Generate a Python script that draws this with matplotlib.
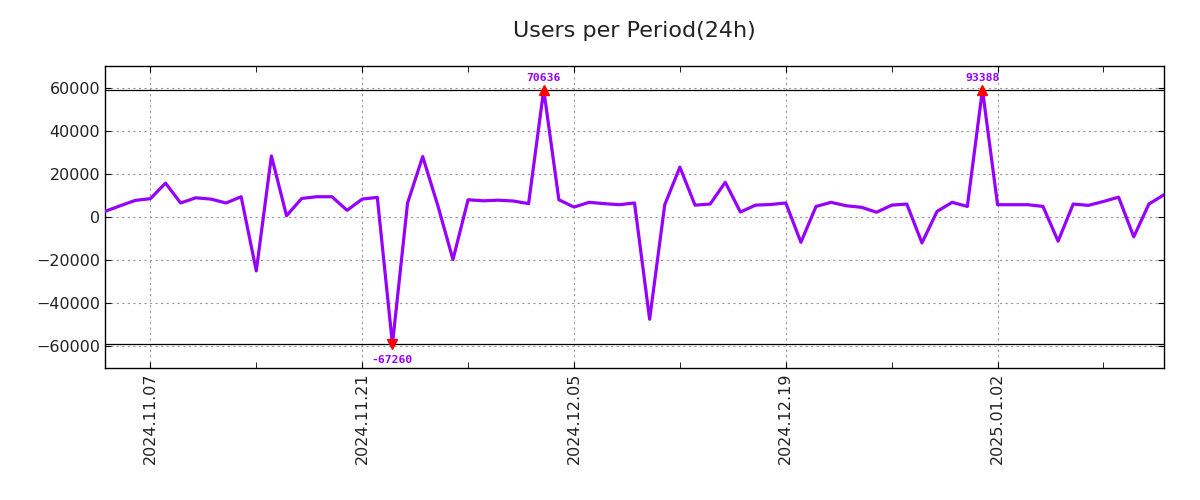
import numpy as np
import matplotlib
matplotlib.use("Agg")
import matplotlib.pyplot as plt
import matplotlib.dates as mdates

LINE_COLOR = "#9500ff"
CLIP = 59000

start_date = np.datetime64("2024-11-04")
users = [
    2600, 5200, 7700, 8500, 15700, 6500, 8900, 8300, 6500, 9400,
    -25000, 28300, 600, 8600, 9400, 9400, 3100, 8300, 9100, -67260,
    6500, 28000, 5300, -19700, 8000, 7500, 7800, 7400, 6200, 70636,
    8000, 4600, 6800, 6200, 5700, 6500, -47400, 5700, 23100, 5500,
    6000, 16100, 2300, 5500, 5800, 6500, -11700, 4900, 6800, 5200,
    4500, 2200, 5500, 6000, -12000, 2600, 6800, 4900, 93388, 5700,
    5700, 5700, 4900, -11200, 6000, 5400, 7200, 9200, -9200, 6000,
    10300,
]
dates = start_date + np.arange(len(users))
users = np.array(users)
shown = np.clip(users, -CLIP, CLIP)

fig = plt.figure(figsize=(12, 5), dpi=100)
ax = fig.add_axes([0.0875, 0.264, 0.8825, 0.604])

ax.plot(dates, shown, color=LINE_COLOR, linewidth=2.3, zorder=3)
ax.axhline(CLIP, color="black", linewidth=0.9, zorder=2)
ax.axhline(-CLIP, color="black", linewidth=0.9, zorder=2)

# mark and label values that went past the clip lines
for d, v, s in zip(dates, users, shown):
    if v > CLIP:
        ax.plot(d, s, marker="^", color="red", markersize=7, zorder=4)
        ax.annotate(str(v), (d, s), xytext=(0, 5), textcoords="offset points",
                    ha="center", va="bottom", color=LINE_COLOR, fontsize=8.2,
                    fontweight="bold", family="DejaVu Sans Mono")
    elif v < -CLIP:
        ax.plot(d, s, marker="v", color="red", markersize=7, zorder=4)
        ax.annotate(str(v), (d, s), xytext=(0, -8), textcoords="offset points",
                    ha="center", va="top", color=LINE_COLOR, fontsize=8.2,
                    fontweight="bold", family="DejaVu Sans Mono")

major = np.datetime64("2024-11-07") + np.arange(5) * 14
minor = np.datetime64("2024-11-07") + np.arange(5) * 14 + 7
ax.set_xticks(major)
ax.set_xticks(minor, minor=True)
ax.xaxis.set_major_formatter(mdates.DateFormatter("%Y.%m.%d"))
plt.setp(ax.get_xticklabels(), rotation=90)
ax.set_xlim(dates[0], dates[-1])
ax.set_ylim(-70000, 70000)
ax.set_yticks(np.arange(-60000, 60001, 20000))

ax.tick_params(direction="in", length=4, top=True, right=True, labelsize=11.5,
               colors="black", labelcolor="#222222")
ax.tick_params(which="minor", direction="in", length=4, top=True)
ax.grid(True, which="major", linestyle=(0, (2, 3)), color="#999999", linewidth=0.8)
for sp in ax.spines.values():
    sp.set_color("black")
    sp.set_linewidth(1)

ax.set_title("Users per Period(24h)", fontsize=16, color="#222222", pad=21)

fig.savefig("out.png", dpi=100)
